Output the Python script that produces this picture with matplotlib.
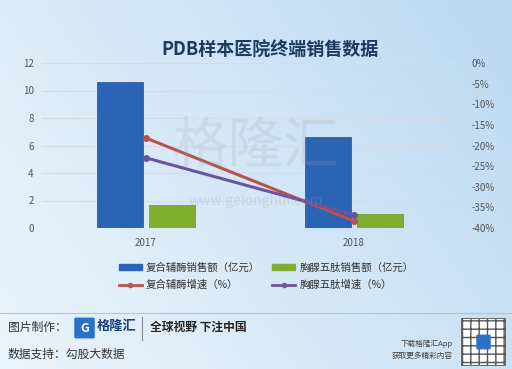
import numpy as np
import matplotlib.pyplot as plt
from matplotlib.patches import Rectangle, FancyBboxPatch
from matplotlib.lines import Line2D

plt.rcParams['font.family'] = ['Noto Sans CJK SC', 'DejaVu Sans']

# data
years = ['2017', '2018']
fuhe_sales = [10.6, 6.6]        # 复合辅酶销售额（亿元）
xiongxian_sales = [1.7, 1.0]    # 胸腺五肽销售额（亿元）
fuhe_growth = [-18.2, -38.3]    # 复合辅酶增速（%）
xiongxian_growth = [-23.0, -36.8]  # 胸腺五肽增速（%）
left_ticks = [0, 2, 4, 6, 8, 10, 12]
right_ticks = [0, -5, -10, -15, -20, -25, -30, -35, -40]

c_blue = '#2b64b5'
c_green = '#7fad2f'
c_red = '#b9514c'
c_purple = '#6a559c'
c_tick = '#555555'

fig = plt.figure(figsize=(5.12, 3.69), dpi=100)

# background gradient
bg = fig.add_axes([0, 0, 1, 1], zorder=-10)
gx = np.linspace(0, 1, 200)
gy = np.linspace(0, 1, 200)
X, Y = np.meshgrid(gx, gy)
g = 0.6 * X + 0.3 * (1 - Y)
c0 = np.array([0.92, 0.96, 0.99])
c1 = np.array([0.72, 0.84, 0.94])
img = c0[None, None, :] * (1 - g[..., None]) + c1[None, None, :] * g[..., None]
bg.imshow(img, extent=[0, 1, 0, 1], aspect='auto', origin='upper')
bg.set_xlim(0, 1)
bg.set_ylim(0, 1)
bg.axis('off')

ax = fig.add_axes([42 / 512, 1 - 228 / 369, 416 / 512, 165 / 369])
ax.patch.set_alpha(0)
x = np.arange(len(years))
w = 0.22
ax.bar(x - 0.125, fuhe_sales, w, color=c_blue, edgecolor='#24528f', linewidth=0.5, zorder=3)
ax.bar(x + 0.125, xiongxian_sales, w, color=c_green, edgecolor='#6a9326', linewidth=0.5, zorder=3)
ax.set_xlim(-0.5, 1.5)
ax.set_ylim(0, 12)
ax.set_yticks(left_ticks)
ax.set_xticks(x)
ax.set_xticklabels(years)
ax.grid(axis='y', color='#d4dde6', linewidth=0.8, zorder=0)
ax.tick_params(length=0, labelsize=7, colors=c_tick)
ax.tick_params(axis='x', pad=7)
ax.tick_params(axis='y', pad=6)
for s in ax.spines.values():
    s.set_visible(False)

ax2 = ax.twinx()
ax2.plot(x, fuhe_growth, color=c_red, linewidth=2.2, marker='o', markersize=4, zorder=4)
ax2.plot(x, xiongxian_growth, color=c_purple, linewidth=2.2, marker='o', markersize=4, zorder=4)
ax2.set_ylim(-40, 0)
ax2.set_yticks(right_ticks)
ax2.set_yticklabels([f'{t}%' for t in right_ticks])
ax2.tick_params(length=0, labelsize=7, colors=c_tick, pad=10)
for s in ax2.spines.values():
    s.set_visible(False)

# watermark
fig.text(0.5, 0.6, '格隆汇', fontsize=40, color='#9aa3ab', alpha=0.18, ha='center', va='center')
fig.text(0.5, 0.455, 'www.gelonghui.com', fontsize=10, color='#9aa3ab', alpha=0.25, ha='center', va='center')

fig.text(0.527, 1 - 50 / 369, 'PDB样本医院终端销售数据', fontsize=13, fontweight='bold',
         color='#1f3a5f', ha='center', va='center')

handles = [
    Rectangle((0, 0), 1, 1, color=c_blue),
    Line2D([], [], color=c_red, linewidth=2, marker='o', markersize=3),
    Rectangle((0, 0), 1, 1, color=c_green),
    Line2D([], [], color=c_purple, linewidth=2, marker='o', markersize=3),
]
labels = ['复合辅酶销售额（亿元）', '复合辅酶增速（%）', '胸腺五肽销售额（亿元）', '胸腺五肽增速（%）']
fig.legend(handles, labels, ncol=2, loc='center', bbox_to_anchor=(0.52, 1 - 276 / 369),
           frameon=False, fontsize=7.5, handlelength=2.2, handleheight=0.5, labelspacing=0.7,
           columnspacing=1.2, handletextpad=0.4, labelcolor='#333333')

# footer
fig.add_artist(Line2D([0.0, 1.0], [1 - 313 / 369, 1 - 313 / 369], color='#b7c4d0', linewidth=0.8))
fig.text(8 / 512, 1 - 327 / 369, '图片制作：', fontsize=8.5, color='#333333', va='center')
fig.text(8 / 512, 1 - 354 / 369, '数据支持：勾股大数据', fontsize=8.5, color='#333333', va='center')
fig.add_artist(FancyBboxPatch((76 / 512, 1 - 337 / 369), 17 / 512, 18 / 369,
                              boxstyle='round,pad=0.002', color='#2a6fc9'))
fig.text(84.5 / 512, 1 - 328 / 369, 'G', fontsize=9, color='white', fontweight='bold',
         ha='center', va='center')
fig.text(97 / 512, 1 - 326 / 369, '格隆汇', fontsize=9.5, color='#1b3f7a', fontweight='bold', va='center')
fig.add_artist(Line2D([142 / 512, 142 / 512], [1 - 317 / 369, 1 - 340 / 369], color='#888888', linewidth=0.8))
fig.text(150 / 512, 1 - 327 / 369, '全球视野 下注中国', fontsize=8.5, color='#222222', fontweight='bold', va='center')
fig.text(453 / 512, 1 - 344 / 369, '下载格隆汇App', fontsize=5.5, color='#444444', ha='right', va='center')
fig.text(453 / 512, 1 - 356 / 369, '获取更多精彩内容', fontsize=5.5, color='#444444', ha='right', va='center')
plt.rcParams['hatch.color'] = '#777777'
fig.add_artist(Rectangle((461 / 512, 1 - 365 / 369), 44 / 512, 47 / 369, facecolor='white',
                         edgecolor='#555555', hatch='++', linewidth=0.6))
fig.add_artist(FancyBboxPatch((478 / 512, 1 - 348 / 369), 11 / 512, 12 / 369,
                              boxstyle='round,pad=0.002', color='#2a6fc9'))

fig.savefig('out.png', dpi=100)
